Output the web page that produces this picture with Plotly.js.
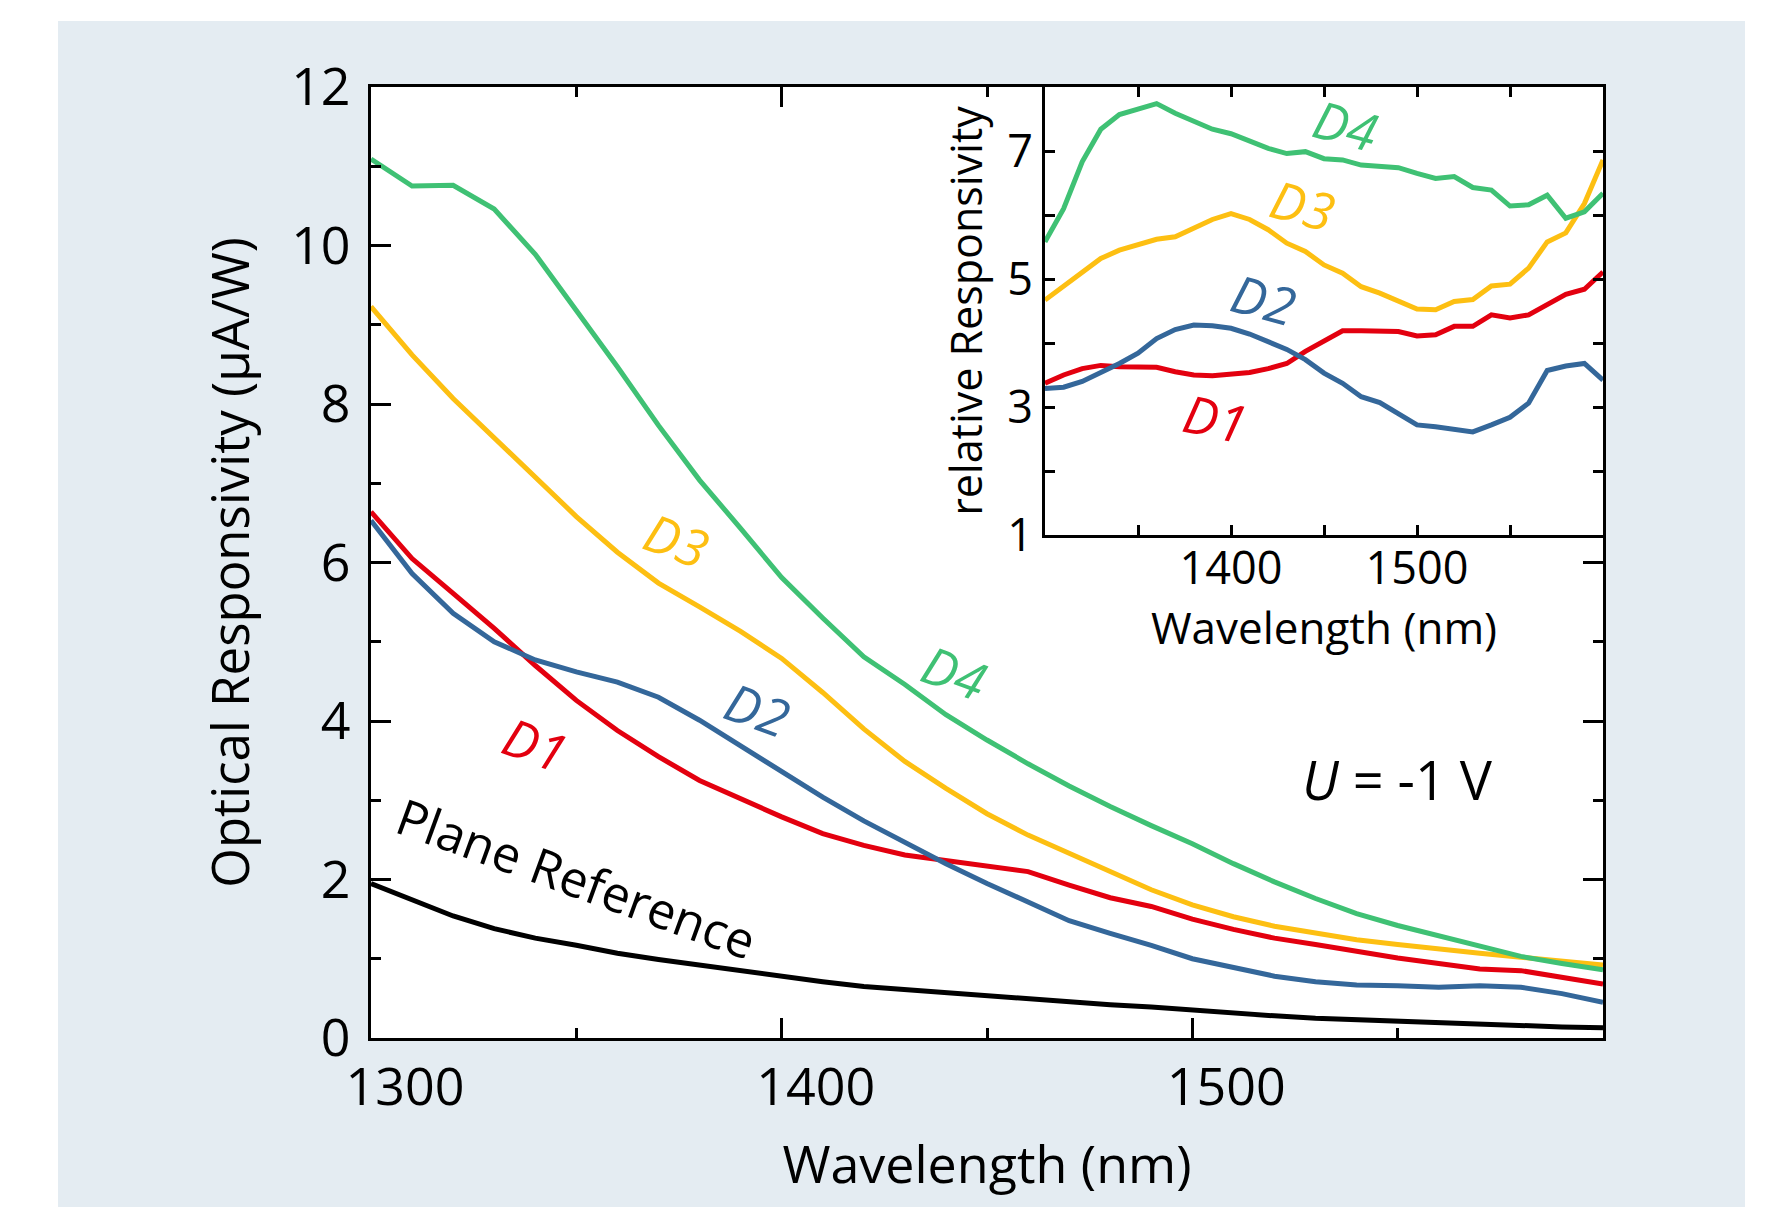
<!DOCTYPE html>
<html><head><meta charset="utf-8">
<script src="https://cdn.plot.ly/plotly-3.0.1.min.js"></script>
<style>html,body{margin:0;padding:0;background:#fff}</style>
</head><body>
<div id="chart" style="width:1769px;height:1207px"></div>
<script>
// ---- data ----
const wavelength = [1300,1310,1320,1330,1340,1350,1360,1370,1380,1390,1400,1410,1420,1430,1440,1450,1460,1470,1480,1490,1500,1510,1520,1530,1540,1550,1560,1570,1580,1590,1600];

const planeRef = [1.95,1.74,1.54,1.38,1.26,1.17,1.07,0.99,0.92,0.85,0.77,0.71,0.65,0.61,0.57,0.53,0.49,0.46,0.42,0.39,0.35,0.32,0.28,0.25,0.23,0.21,0.19,0.17,0.15,0.14,0.13];
const d1Main = [6.64,6.05,5.61,5.17,4.70,4.26,3.88,3.55,3.25,3.02,2.79,2.58,2.43,2.31,2.24,2.17,2.10,1.93,1.77,1.66,1.50,1.37,1.26,1.18,1.09,1.01,0.94,0.87,0.85,0.76,0.68];
const d2Main = [6.53,5.86,5.36,5.00,4.77,4.62,4.49,4.30,4.01,3.69,3.36,3.04,2.74,2.47,2.20,1.95,1.72,1.48,1.32,1.17,1.00,0.89,0.78,0.71,0.67,0.66,0.64,0.66,0.64,0.56,0.45];
const d3Main = [9.23,8.62,8.07,7.57,7.06,6.58,6.13,5.74,5.44,5.13,4.79,4.36,3.90,3.49,3.15,2.83,2.56,2.33,2.10,1.87,1.68,1.53,1.41,1.33,1.24,1.18,1.12,1.07,1.02,0.97,0.92];
const d4Main = [11.09,10.75,10.76,10.46,9.89,9.18,8.47,7.73,7.04,6.43,5.81,5.30,4.81,4.46,4.08,3.76,3.46,3.18,2.92,2.68,2.45,2.20,1.97,1.76,1.57,1.42,1.29,1.17,1.03,0.94,0.86];

const d1Rel = [3.37,3.50,3.60,3.65,3.63,3.62,3.62,3.55,3.50,3.49,3.52,3.54,3.60,3.68,3.87,4.03,4.19,4.19,4.19,4.18,4.11,4.13,4.26,4.26,4.44,4.39,4.44,4.61,4.76,4.84,5.11];
const d2Rel = [3.29,3.31,3.40,3.53,3.68,3.84,4.07,4.21,4.28,4.27,4.23,4.14,4.02,3.90,3.74,3.53,3.37,3.16,3.07,2.90,2.72,2.69,2.65,2.61,2.72,2.84,3.06,3.57,3.64,3.68,3.42];
const d3Rel = [4.67,4.88,5.11,5.32,5.45,5.53,5.62,5.66,5.79,5.93,6.02,5.93,5.77,5.56,5.43,5.22,5.09,4.88,4.78,4.65,4.53,4.52,4.65,4.68,4.89,4.92,5.17,5.58,5.72,6.18,6.86];
const d4Rel = [5.58,6.10,6.83,7.34,7.57,7.65,7.74,7.59,7.46,7.34,7.27,7.16,7.04,6.96,6.99,6.88,6.86,6.78,6.76,6.74,6.65,6.57,6.60,6.43,6.39,6.14,6.16,6.31,5.95,6.05,6.34];

const mainXTicks = [1300,1400,1500];
const insetXTicks = [1400,1500];
const insetYTicks = [1,3,5,7];

const seriesNames = ['Plane Reference','D1','D2','D3','D4'];

// ---- styles ----
const FONT = '"Open Sans", "Noto Sans", sans-serif';
const C = {ref:'#000000', d1:'#e3000f', d2:'#34679a', d3:'#fdbf12', d4:'#3fc174'};
const LW = 5;

function line(x, y, color, xa, ya, name){
  return {x:x, y:y, type:'scatter', mode:'lines', name:name, xaxis:xa, yaxis:ya,
          line:{color:color, width:LW, shape:'linear'}, hoverinfo:'x+y+name'};
}

const traces = [
  line(wavelength, planeRef, C.ref, 'x', 'y', seriesNames[0]),
  line(wavelength, d1Main, C.d1, 'x', 'y', seriesNames[1]),
  line(wavelength, d2Main, C.d2, 'x', 'y', seriesNames[2]),
  line(wavelength, d3Main, C.d3, 'x', 'y', seriesNames[3]),
  line(wavelength, d4Main, C.d4, 'x', 'y', seriesNames[4]),
  line(wavelength, d1Rel, C.d1, 'x2', 'y2', seriesNames[1]),
  line(wavelength, d2Rel, C.d2, 'x2', 'y2', seriesNames[2]),
  line(wavelength, d3Rel, C.d3, 'x2', 'y2', seriesNames[3]),
  line(wavelength, d4Rel, C.d4, 'x2', 'y2', seriesNames[4])
];

const W = 1769, H = 1207;
const px = v => v / W;
const py = v => 1 - v / H;

const axisCommon = {showline:true, linewidth:3, linecolor:'#000', mirror:'ticks',
  ticks:'inside', tickcolor:'#000', tickwidth:3, showgrid:false, zeroline:false,
  automargin:false, fixedrange:true};

function ann(text, x, y, color, xref, yref, angle, size){
  return {text:text, x:x, y:y, xref:xref, yref:yref, showarrow:false,
          textangle:angle, font:{family:FONT, size:size||52, color:color},
          xanchor:'center', yanchor:'middle'};
}

const layout = {
  width:W, height:H, margin:{l:0,r:0,t:0,b:0},
  paper_bgcolor:'#e4ecf2', plot_bgcolor:'#ffffff',
  showlegend:false,
  font:{family:FONT, color:'#000', size:52},
  shapes:[
    {type:'rect', xref:'paper', yref:'paper', x0:0, x1:px(58), y0:0, y1:1, fillcolor:'#ffffff', line:{width:0}, layer:'below'},
    {type:'rect', xref:'paper', yref:'paper', x0:0, x1:1, y0:py(21), y1:1, fillcolor:'#ffffff', line:{width:0}, layer:'below'},
    {type:'rect', xref:'paper', yref:'paper', x0:px(1745), x1:1, y0:0, y1:1, fillcolor:'#ffffff', line:{width:0}, layer:'below'}
  ],
  xaxis: Object.assign({}, axisCommon, {
    domain:[px(371), px(1603)], anchor:'y', range:[1300,1600],
    tickmode:'array', tickvals:mainXTicks, ticklen:20,
    ticklabelshift:34, ticklabelstandoff:2,
    minor:{tickmode:'linear', tick0:1300, dtick:50, ticks:'inside', ticklen:10, tickwidth:3, tickcolor:'#000'},
    tickfont:{family:FONT, size:52},
    title:{text:'Wavelength (nm)', font:{family:FONT, size:52}, standoff:28}
  }),
  yaxis: Object.assign({}, axisCommon, {
    domain:[py(1038), py(87)], anchor:'x', range:[0,12],
    tickmode:'linear', tick0:0, dtick:2, ticklen:20,
    ticklabelstandoff:7,
    minor:{tickmode:'linear', tick0:0, dtick:1, ticks:'inside', ticklen:10, tickwidth:3, tickcolor:'#000'},
    tickfont:{family:FONT, size:52},
    title:{text:'Optical Responsivity (µA/W)', font:{family:FONT, size:51}, standoff:26}
  }),
  xaxis2: Object.assign({}, axisCommon, {
    domain:[px(1045), px(1603)], anchor:'y2', range:[1300,1600],
    tickmode:'array', tickvals:insetXTicks, ticklen:10,
    ticklabelstandoff:-8,
    minor:{tickmode:'linear', tick0:1300, dtick:50, ticks:'inside', ticklen:10, tickwidth:3, tickcolor:'#000'},
    tickfont:{family:FONT, size:45},
    title:{text:'Wavelength (nm)', font:{family:FONT, size:44}, standoff:0}
  }),
  yaxis2: Object.assign({}, axisCommon, {
    domain:[py(535), py(87)], anchor:'x2', range:[1,8],
    tickmode:'array', tickvals:insetYTicks, ticklen:10,
    minor:{tickmode:'linear', tick0:0, dtick:1, ticks:'inside', ticklen:10, tickwidth:3, tickcolor:'#000'},
    tickfont:{family:FONT, size:45},
    title:{text:'relative Responsivity', font:{family:FONT, size:43}, standoff:12}
  }),
  annotations:[
    ann('<i>D1</i>', 1340, 3.72, C.d1, 'x', 'y', 20),
    ann('<i>D2</i>', 1394, 4.16, C.d2, 'x', 'y', 20),
    ann('<i>D3</i>', 1374.5, 6.29, C.d3, 'x', 'y', 20),
    ann('<i>D4</i>', 1442, 4.63, C.d4, 'x', 'y', 20),
    ann('Plane Reference', 1350, 2.02, C.ref, 'x', 'y', 20, 50),
    ann('<i>U</i> = -1 V', 1550, 3.27, '#000', 'x', 'y', 0, 54),
    ann('<i>D4</i>', 1461.6, 7.42, C.d4, 'x2', 'y2', 15),
    ann('<i>D3</i>', 1438.6, 6.16, C.d3, 'x2', 'y2', 15),
    ann('<i>D2</i>', 1417.4, 4.69, C.d2, 'x2', 'y2', 15),
    ann('<i>D1</i>', 1391.6, 2.84, C.d1, 'x2', 'y2', 12)
  ]
};

Plotly.newPlot('chart', traces, layout, {displayModeBar:false, staticPlot:true});
</script>
</body></html>
